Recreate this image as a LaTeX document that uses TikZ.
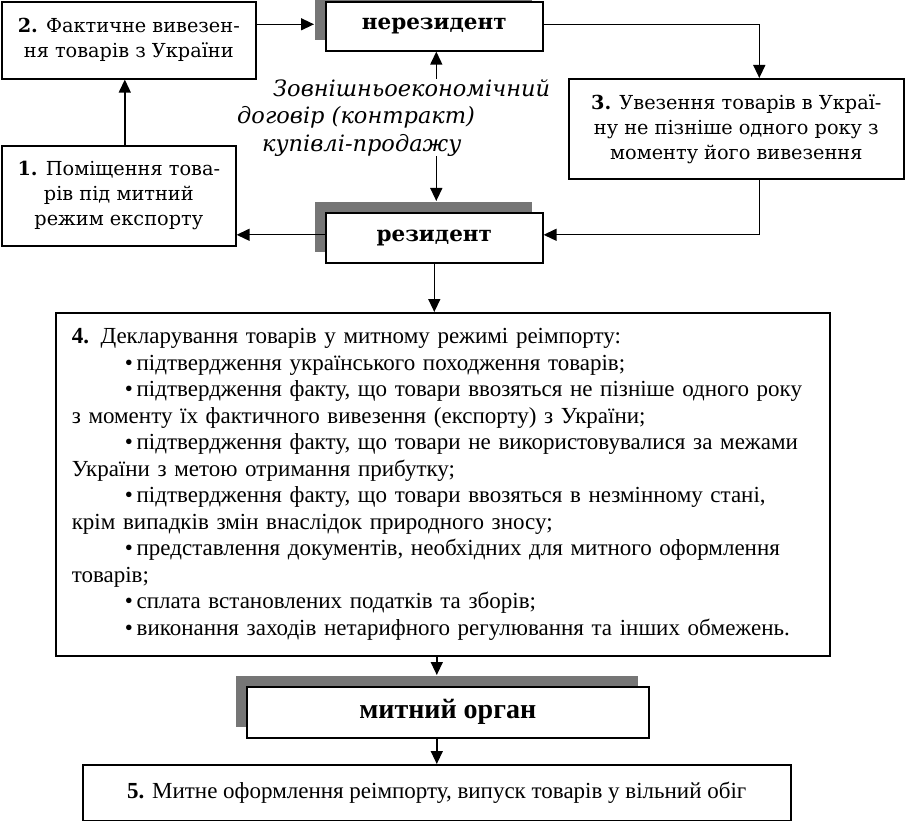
\documentclass[tikz,border=0pt]{standalone}
\usepackage{fontspec}
\setmainfont{DejaVu Serif}
\newfontfamily\narrowfont{Liberation Serif}
\usetikzlibrary{arrows.meta,shadows}

\definecolor{shadowgray}{RGB}{118,118,118}

\newcommand\wideboxfont{\fontsize{19.3}{25}\selectfont}
\newcommand\partyfont{\fontsize{21.5}{24}\selectfont\bfseries}
\newcommand\contractfont{\fontsize{22.5}{27.5}\selectfont\itshape}
\newcommand\listfont{\narrowfont\fontsize{23}{26.5}\selectfont}
\newcommand\organfont{\narrowfont\fontsize{28}{30}\selectfont\bfseries}

\tikzset{
  box/.style={draw=black, line width=1.6pt, fill=white, inner sep=0pt,
    anchor=north west, align=center, font=\wideboxfont},
  partybox/.style={box, font=\partyfont,
    drop shadow={shadow xshift=-11pt, shadow yshift=11pt, fill=shadowgray, opacity=1}},
  link/.style={-{Triangle[length=13pt,width=12pt]}, line width=1.4pt},
}

\begin{document}
\begin{tikzpicture}[x=1pt, y=-1pt]

\useasboundingbox (0,0) rectangle (905,821);

% upper row
\node[box, minimum width=254pt, minimum height=77pt] (shipout) at (1,1)
  {\textbf{2.} Фактичне вивезен-\\ня товарів з України};
\node[partybox, minimum width=217pt, minimum height=49pt] (nonres) at (325,1) {нерезидент};
\node[box, minimum width=335pt, minimum height=100pt] (reentry) at (568,78)
  {\textbf{3.} Увезення товарів в Украї-\\ну не пізніше одного року з\\моменту його вивезення};
\node[box, minimum width=234pt, minimum height=100pt] (place) at (1,145)
  {\textbf{1.} Поміщення това-\\рів під митний\\режим експорту};
\node[partybox, minimum width=217pt, minimum height=50pt] (res) at (325,212) {резидент};

\node[anchor=north west, align=left, inner sep=0pt, font=\contractfont] (contract) at (237,79)
  {\hspace*{36pt}Зовнішньоекономічний\\договір (контракт)\\\hspace*{25pt}купівлі-продажу};

% declaration
\node[box, minimum width=774pt, minimum height=343pt, align=left, text width=742pt,
  inner xsep=16pt, font=\listfont] (declare) at (55,312)
  {\textbf{4.} Декларування товарів у митному режимі реімпорту:\\
   \hspace*{53pt}•\,підтвердження українського походження товарів;\\
   \hspace*{53pt}•\,підтвердження факту, що товари ввозяться не пізніше одного року\\
   з моменту їх фактичного вивезення (експорту) з України;\\
   \hspace*{53pt}•\,підтвердження факту, що товари не використовувалися за межами\\
   України з метою отримання прибутку;\\
   \hspace*{53pt}•\,підтвердження факту, що товари ввозяться в незмінному стані,\\
   крім випадків змін внаслідок природного зносу;\\
   \hspace*{53pt}•\,представлення документів, необхідних для митного оформлення\\
   товарів;\\
   \hspace*{53pt}•\,сплата встановлених податків та зборів;\\
   \hspace*{53pt}•\,виконання заходів нетарифного регулювання та інших обмежень.};

\node[partybox, minimum width=402pt, minimum height=51pt, font=\organfont] (customs) at (246,686) {митний орган};
\node[box, minimum width=708pt, minimum height=56pt, font=\listfont] (release) at (82,764)
  {\textbf{5.} Митне оформлення реімпорту, випуск товарів у вільний обіг};

% connectors
\draw[link] ([yshift=2pt]shipout.east |- nonres.west) -- ([xshift=-11pt, yshift=2pt]nonres.west);
\draw[link] ([xshift=6pt]place.north) -- ([xshift=6pt]place.north |- shipout.south);
\draw[link] ([yshift=2pt]nonres.east) -| ([xshift=23pt]reentry.north);
\draw[link] ([xshift=23pt]reentry.south) |- ([yshift=3pt]res.east);
\draw[link] ([yshift=3pt]res.west) -- ([yshift=3pt]res.west -| place.east);
\draw[link] ([xshift=2pt]nonres.south |- contract.north) -- ([xshift=2pt]nonres.south);
\draw[link] ([xshift=2pt]res.north |- contract.south) -- ([xshift=2pt, yshift=11pt]res.north);
\draw[link] (res.south) -- (res.south |- declare.north);
\draw[link] (release.north |- declare.south) -- ([yshift=11pt]release.north |- customs.north);
\draw[link] (release.north |- customs.south) -- (release.north);

\end{tikzpicture}
\end{document}
